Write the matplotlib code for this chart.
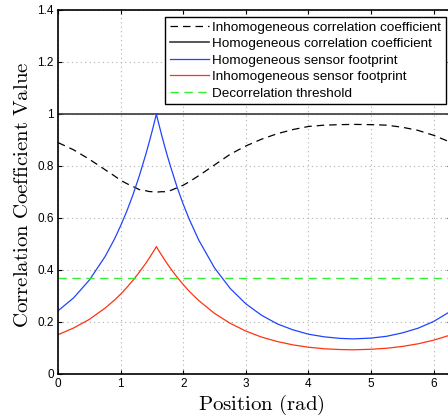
import numpy as np
import matplotlib

matplotlib.use("Agg")
import matplotlib.pyplot as plt

# values
position = [0.0, 0.25, 0.5, 0.75, 0.9, 1.0, 1.1, 1.2, 1.3, 1.4,
            1.45, 1.5, 1.55, 1.571, 1.6, 1.65, 1.7, 1.75, 1.8, 1.9,
            2.0, 2.1, 2.25, 2.5, 2.75, 3.0, 3.25, 3.5, 3.75, 4.0,
            4.25, 4.5, 4.712, 5.0, 5.25, 5.5, 5.75, 6.0, 6.283]
inhom_corr = [0.890, 0.862, 0.826, 0.786, 0.762, 0.745, 0.732, 0.721, 0.709, 0.705,
              0.702, 0.701, 0.700, 0.700, 0.700, 0.701, 0.701, 0.704, 0.706, 0.716,
              0.726, 0.740, 0.763, 0.804, 0.845, 0.877, 0.903, 0.924, 0.940, 0.952,
              0.957, 0.959, 0.960, 0.959, 0.957, 0.949, 0.937, 0.918, 0.890]
hom_footprint = [0.243, 0.293, 0.361, 0.451, 0.518, 0.570, 0.627, 0.691, 0.763, 0.843,
                 0.886, 0.931, 0.979, 1.000, 0.971, 0.924, 0.879, 0.836, 0.796, 0.720,
                 0.653, 0.593, 0.514, 0.408, 0.329, 0.270, 0.226, 0.193, 0.170, 0.153,
                 0.143, 0.137, 0.135, 0.138, 0.145, 0.158, 0.176, 0.202, 0.243]
inhom_footprint = [0.151, 0.177, 0.210, 0.253, 0.284, 0.307, 0.333, 0.361, 0.392, 0.425,
                   0.443, 0.462, 0.481, 0.490, 0.478, 0.459, 0.440, 0.422, 0.405, 0.373,
                   0.344, 0.317, 0.282, 0.233, 0.195, 0.165, 0.142, 0.125, 0.112, 0.103,
                   0.097, 0.094, 0.093, 0.095, 0.099, 0.106, 0.116, 0.130, 0.151]
hom_corr = 1.0
threshold = 0.368

x_limits = [0, 6.283]
y_limits = [0, 1.4]

plt.rcParams["mathtext.fontset"] = "cm"

fig = plt.figure(figsize=(4.48, 4.18), dpi=100)
ax = fig.add_axes([0.1295, 0.1053, 0.878, 0.8708])

ax.plot(position, inhom_corr, color="black", linestyle=(0, (6, 4)), linewidth=0.9,
        label="Inhomogeneous correlation coefficient")
ax.axhline(hom_corr, color="#3a3a3a", linewidth=1.2,
           label="Homogeneous correlation coefficient")
ax.plot(position, hom_footprint, color="#1f45ff", linewidth=0.9,
        label="Homogeneous sensor footprint")
ax.plot(position, inhom_footprint, color="#ff3311", linewidth=0.9,
        label="Inhomogeneous sensor footprint")
ax.axhline(threshold, color="#33ee33", linestyle=(0, (6, 4)), linewidth=1.0,
           label="Decorrelation threshold")

ax.set_xlim(x_limits)
ax.set_ylim(y_limits)
ax.set_xticks(range(0, 7))
ax.set_yticks([0, 0.2, 0.4, 0.6, 0.8, 1, 1.2, 1.4])
ax.set_yticklabels(["0", "0.2", "0.4", "0.6", "0.8", "1", "1.2", "1.4"])
ax.grid(True, color="#b0b0b0", linestyle=(0, (1, 3)), linewidth=0.8)
ax.tick_params(direction="in", top=True, right=True, labelsize=8.5, length=3, pad=3,
               labelfontfamily="Liberation Sans")
for s in ax.spines.values():
    s.set_linewidth(1.2)

ax_w = 0.878 * 448
ax_h = 0.8708 * 418
ax.set_xlabel(r"$\mathrm{Position\ (rad)}$", fontsize=15, va="center")
ax.xaxis.set_label_coords((261 - 58) / ax_w, -(405 - 374) / ax_h)
ax.set_ylabel(r"$\mathrm{Correlation\ Coefficient\ Value}$", fontsize=15, va="center")
ax.yaxis.set_label_coords(-(58 - 22) / ax_w, (374 - 195) / ax_h)

# legend box right edge sits at about x=445 px while the axes run to ~450 px
leg = ax.legend(loc="upper right", bbox_to_anchor=(1.0 - 5.7 / ax_w, 0.982),
                prop={"family": "Liberation Sans", "size": 9.7}, fancybox=False,
                framealpha=1, edgecolor="black", borderpad=0.35, labelspacing=0.3,
                handlelength=2.9, handletextpad=0.25, borderaxespad=0)
leg.get_frame().set_linewidth(1.0)

fig.savefig("out.png", dpi=100)
